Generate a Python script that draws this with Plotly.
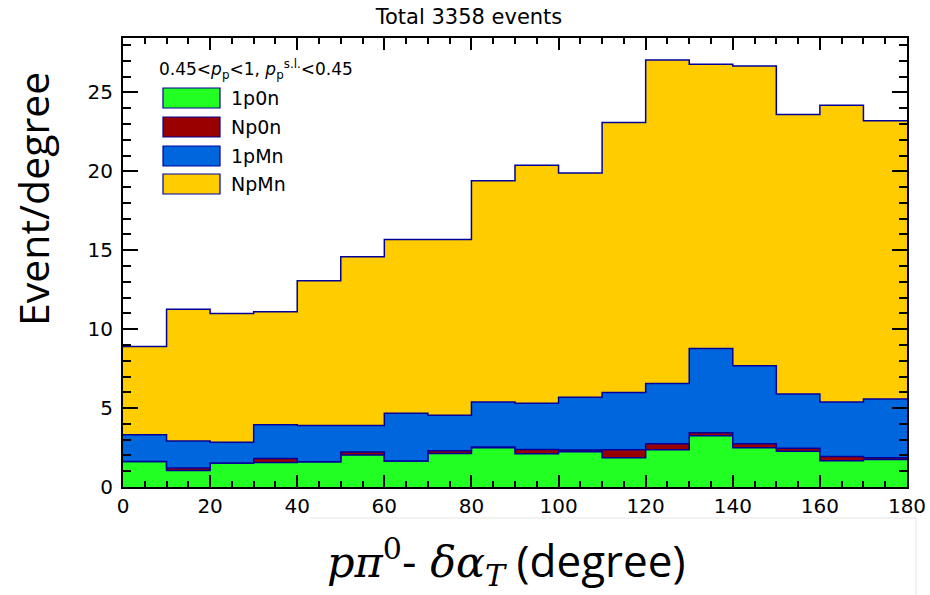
import numpy as np
import plotly.graph_objects as go

# ---- data ----
bin_edges = list(range(0, 190, 10))
names = ["1p0n", "Np0n", "1pMn", "NpMn"]
v_1p0n = [1.62, 1.05, 1.52, 1.56, 1.60, 2.02, 1.64, 2.12, 2.48, 2.10, 2.24, 1.86, 2.36, 3.25, 2.49, 2.26, 1.67, 1.74]
v_Np0n = [0.00, 0.15, 0.00, 0.25, 0.00, 0.19, 0.00, 0.18, 0.05, 0.28, 0.10, 0.50, 0.38, 0.19, 0.25, 0.19, 0.27, 0.11]
v_1pMn = [1.69, 1.71, 1.31, 2.14, 2.30, 1.69, 3.04, 2.24, 2.85, 2.92, 3.34, 3.63, 3.82, 5.34, 4.94, 3.44, 3.44, 3.72]
v_NpMn = [5.60, 8.36, 8.17, 7.15, 9.17, 10.69, 11.00, 11.14, 14.03, 15.08, 14.21, 17.11, 20.50, 18.01, 19.00, 17.71, 18.81, 17.63]
x_ticks = list(range(0, 181, 20))
y_ticks = [0, 5, 10, 15, 20, 25]
title_text = "Total 3358 events"
legend_header = "0.45&lt;<i>p</i><sub>p</sub>&lt;1, <i>p</i><sub>p</sub><sup>s.l.</sup>&lt;0.45"

colors = ["#22ff22", "#990000", "#0066dd", "#ffcc00"]
line_col = "#000099"
sans = "DejaVu Sans, Liberation Sans, Arial, sans-serif"

layers = [v_1p0n, v_Np0n, v_1pMn, v_NpMn]
cum = np.cumsum(np.array(layers), axis=0)

fig = go.Figure()
for i, (nm, col) in enumerate(zip(names, colors)):
    yv = list(cum[i]) + [cum[i][-1]]
    fig.add_trace(go.Scatter(
        x=bin_edges, y=yv, name=nm, mode="lines",
        line=dict(shape="hv", color=line_col, width=1.5),
        fill="tozeroy" if i == 0 else "tonexty",
        fillcolor=col, showlegend=False, hoverinfo="skip"))

# plot-area geometry in pixels (for legend placement)
L, T, W, H = 123, 38, 784, 449
def px(x):
    return (x - L) / W
def py(y):
    return (T + H - y) / H

shapes = []
annotations = []
# legend header
annotations.append(dict(text=legend_header, x=px(157), y=py(69), xref="paper", yref="paper",
                        xanchor="left", yanchor="middle", showarrow=False,
                        font=dict(family=sans, size=17, color="black")))
box_tops = [88, 117, 146, 174]
for nm, col, bt in zip(names, colors, box_tops):
    shapes.append(dict(type="rect", xref="paper", yref="paper",
                       x0=px(163), x1=px(220), y0=py(bt), y1=py(bt + 20),
                       fillcolor=col, line=dict(color=line_col, width=1.2)))
    annotations.append(dict(text=nm, x=px(229), y=py(bt + 10), xref="paper", yref="paper",
                            xanchor="left", yanchor="middle", showarrow=False,
                            font=dict(family=sans, size=19, color="black")))

# axis titles
annotations.append(dict(text="Event/degree", textangle=-90, x=px(33), y=py(199),
                        xref="paper", yref="paper", xanchor="center", yanchor="middle",
                        showarrow=False, font=dict(family="Open Sans, Lato, sans-serif", size=41, color="black")))
annotations.append(dict(
    text="<span style='font-family:DejaVu Serif;font-size:43px'><i>pπ</i><sup>0</sup>- <i>δα</i><sub><i>T</i></sub></span> (degree)",
    x=px(506), y=py(561), xref="paper", yref="paper", xanchor="center", yanchor="middle",
    showarrow=False, font=dict(family="Open Sans, Lato, sans-serif", size=44, color="black")))

# pasted-image border lines
shapes.append(dict(type="line", xref="paper", yref="paper", x0=px(310), x1=px(916), y0=py(518), y1=py(518),
                   line=dict(color="#e4e4e4", width=1)))
shapes.append(dict(type="line", xref="paper", yref="paper", x0=px(916), x1=px(916), y0=py(518), y1=py(595),
                   line=dict(color="#e4e4e4", width=1)))

fig.update_layout(
    width=930, height=595,
    margin=dict(l=L, r=930 - L - W, t=T, b=595 - T - H, autoexpand=False),
    paper_bgcolor="white", plot_bgcolor="white",
    title=dict(text=title_text, x=469 / 930, xanchor="center", y=1 - 17 / 595, yanchor="middle",
               font=dict(family=sans, size=21, color="black")),
    shapes=shapes, annotations=annotations, showlegend=False,
)
fig.update_xaxes(range=[0, 180], tickvals=x_ticks, ticks="inside", ticklen=12, tickwidth=1.5,
                 tickcolor="black", minor=dict(dtick=5, ticks="inside", ticklen=6, tickcolor="black"),
                 showline=True, linewidth=2, linecolor="black", mirror="ticks",
                 showgrid=False, zeroline=False, automargin=False,
                 tickfont=dict(family=sans, size=20, color="black"))
fig.update_yaxes(range=[0, 28.45], tickvals=y_ticks, ticks="inside", ticklen=15, tickwidth=1.5,
                 tickcolor="black", minor=dict(dtick=1, ticks="inside", ticklen=8, tickcolor="black"),
                 showline=True, linewidth=2, linecolor="black", mirror="ticks",
                 showgrid=False, zeroline=False, ticklabelstandoff=4, automargin=False,
                 tickfont=dict(family=sans, size=20, color="black"))

fig.write_html("out.html", config={"displayModeBar": False},
               post_script="document.body.style.margin='0';")
